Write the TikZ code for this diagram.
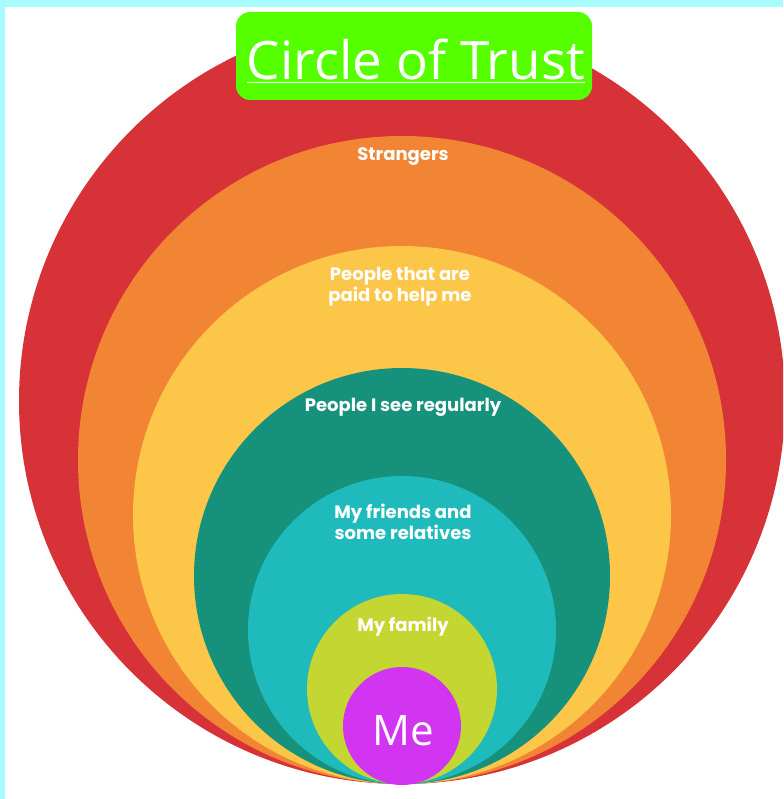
\documentclass[tikz,border=0pt]{standalone}
\usepackage{fontspec}
\usepackage{tikz}
\usepackage{xcolor}
\usetikzlibrary{positioning}
\newfontfamily\ringfont{Poppins}
\newfontfamily\titlefont{Open Sans}
\definecolor{frame}{HTML}{A8FCFF}
\definecolor{ringA}{HTML}{D63238}
\definecolor{ringB}{HTML}{F28533}
\definecolor{ringC}{HTML}{FCC648}
\definecolor{ringD}{HTML}{16917C}
\definecolor{ringE}{HTML}{1FBBBC}
\definecolor{ringF}{HTML}{C4D631}
\definecolor{ringG}{HTML}{D235F2}
\definecolor{titlegreen}{HTML}{55FF00}
\tikzset{ring/.style={text=white, align=center, font=\ringfont\bfseries\fontsize{18}{21}\selectfont}}

\begin{document}
\begin{tikzpicture}[x=1pt,y=-1pt]
\useasboundingbox (0,0) rectangle (783,799);
\clip (0,0) rectangle (783,799);
\fill[white] (0,0) rectangle (783,799);
\fill[frame] (0,0) rectangle (783,7); %top strip
\fill[frame] (0,0) rectangle (5,799);
% rings, all touching at the bottom
\fill[ringA] (402,401) circle (383);
\fill[ringB] (402,460) circle (324);
\fill[ringC] (402,515) circle (269);
\fill[ringD] (402,576) circle (208);
\fill[ringE] (402,630) circle (154);
\fill[ringF] (402,689) circle (95);
\fill[ringG] (402,726) circle (59);
\node[ring] (strangers) at (403,157) {Strangers};
\node[ring] (paid) at (400,287) {People that are\\paid to help me};
\node[ring] (regular) at (403,407) {People I see regularly};
\node[ring] (friends) at (403,522) {My friends and\\some relatives};
\node[ring] (family) at (403,627) {My family};
\node[text=white, font=\titlefont\fontsize{42}{46}\selectfont] (me) at (403,731) {Me};
\node[fill=titlegreen, rounded corners=14pt, minimum width=356pt, minimum height=88pt,
  text=white, font=\titlefont\fontsize{53}{56}\selectfont] (title) at (414,56) {};
\node[text=white, font=\titlefont\fontsize{53}{56}\selectfont, anchor=base] (titletext) at (416,80) {\underline{Circle of Trust}};
\end{tikzpicture}
\end{document}
